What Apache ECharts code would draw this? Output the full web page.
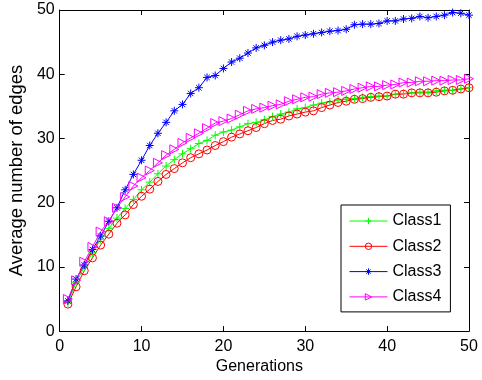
<!DOCTYPE html>
<html>
<head>
<meta charset="utf-8">
<script src="https://cdn.jsdelivr.net/npm/echarts@6/dist/echarts.min.js"></script>
<style>html,body{margin:0;padding:0;background:#fff;}#c{width:482px;height:380px;}</style>
</head>
<body>
<div id="c"></div>
<script>
var generations = [1,2,3,4,5,6,7,8,9,10,11,12,13,14,15,16,17,18,19,20,21,22,23,24,25,26,27,28,29,30,31,32,33,34,35,36,37,38,39,40,41,42,43,44,45,46,47,48,49,50];
var class1 = [4.4,7.6,10.0,12.2,14.3,16.0,17.6,19.1,20.5,22.0,23.2,24.5,25.7,26.7,27.6,28.4,29.2,29.7,30.5,31.0,31.3,31.8,32.3,32.5,32.9,33.4,33.8,34.1,34.6,34.8,35.2,35.5,35.7,36.0,36.1,36.2,36.4,36.5,36.6,36.6,36.9,37.0,37.1,37.2,37.2,37.4,37.5,37.5,37.7,37.9];
var class2 = [4.2,6.9,9.4,11.4,13.4,15.1,16.8,18.1,19.7,21.0,22.1,23.3,24.4,25.3,26.2,27.0,27.6,28.2,28.9,29.5,30.2,30.7,31.2,31.7,32.3,32.8,33.0,33.5,33.8,34.1,34.3,34.8,35.2,35.6,35.8,36.1,36.2,36.4,36.5,36.6,36.9,36.9,37.1,37.1,37.1,37.2,37.4,37.5,37.7,37.9];
var class3 = [4.7,8.1,10.3,12.7,14.8,17.1,19.2,22.0,24.4,26.6,28.9,30.8,32.5,34.3,35.3,37.0,37.9,39.5,39.8,40.9,41.9,42.5,43.3,44.1,44.5,45.0,45.3,45.5,45.9,46.1,46.3,46.5,46.7,46.8,47.0,47.7,47.8,47.8,47.9,48.3,48.3,48.6,48.7,49.0,48.8,49.0,49.2,49.6,49.5,49.2];
var class4 = [5.0,7.9,10.8,13.1,15.5,17.1,19.2,20.9,22.6,23.9,25.0,26.2,27.4,28.3,29.3,30.1,30.8,31.6,32.4,32.7,33.1,33.7,34.3,34.6,34.8,35.1,35.3,35.8,36.1,36.4,36.5,36.9,37.1,37.2,37.4,37.7,37.9,38.1,38.1,38.3,38.4,38.7,38.7,38.9,38.9,39.0,39.0,39.1,39.1,39.3];
var seriesNames = ['Class1','Class2','Class3','Class4'];
var xTicks = [0,10,20,30,40,50];
var yTicks = [0,10,20,30,40,50];

function pairs(ys){ return generations.map(function(g,i){ return [g, ys[i]]; }); }

var FONT = 'Liberation Sans, Arial, Helvetica, sans-serif';
var chart = echarts.init(document.getElementById('c'), null, {renderer:'canvas'});

function mk(name, ys, color, symbol, size){
  return {
    name: name, type: 'line', data: pairs(ys), xAxisIndex: 0, yAxisIndex: 0,
    symbol: symbol, symbolSize: size, showSymbol: true,
    lineStyle: {color: color, width: 1},
    itemStyle: {color: 'none', borderColor: color, borderWidth: 1},
    emphasis: {disabled: true},
    animation: false
  };
}

var axisCommon = {
  type: 'value', min: 0, max: 50, interval: 10,
  splitLine: {show: false},
  axisLine: {show: true, onZero: false, lineStyle: {color: '#000', width: 1}},
  axisTick: {show: true, inside: true, length: 5, lineStyle: {color: '#000'}}
};

chart.setOption({
  animation: false,
  backgroundColor: '#fff',
  grid: {left: 58, right: 13, top: 10, bottom: 46, containLabel: false},
  legend: {
    orient: 'vertical', left: 341, top: 205,
    data: seriesNames,
    backgroundColor: '#fff', borderColor: '#000', borderWidth: 1,
    padding: [8, 9, 7, 8],
    itemWidth: 38, itemHeight: 8, itemGap: 9.3,
    lineStyle: {width: 1},
    itemStyle: {borderWidth: 1},
    textStyle: {fontFamily: FONT, fontSize: 16, color: '#000', lineHeight: 14},
    selectedMode: false
  },
  xAxis: [
    Object.assign({}, axisCommon, {
      position: 'bottom',
      name: 'Generations', nameLocation: 'middle', nameGap: 24,
      nameTextStyle: {fontFamily: FONT, fontSize: 16, color: '#000', padding: [0, 10, 0, 0]},
      axisLabel: {fontFamily: FONT, fontSize: 16, color: '#000', margin: 7,
        formatter: function(v){ return xTicks.indexOf(v) >= 0 ? String(v) : ''; }}
    }),
    Object.assign({}, axisCommon, {position: 'top', axisLabel: {show: false}})
  ],
  yAxis: [
    Object.assign({}, axisCommon, {
      position: 'left',
      name: 'Average number of edges', nameLocation: 'middle', nameGap: 27, nameRotate: 90,
      nameTextStyle: {fontFamily: FONT, fontSize: 18.4, color: '#000'},
      axisLabel: {fontFamily: FONT, fontSize: 16, color: '#000', margin: 5,
        formatter: function(v){ return yTicks.indexOf(v) >= 0 ? String(v) : ''; }}
    }),
    Object.assign({}, axisCommon, {position: 'right', axisLabel: {show: false}})
  ],
  series: [
    mk('Class1', class1, '#00ff00', 'path://M5,0L5,10M0,5L10,5', 8),
    mk('Class2', class2, '#ff0000', 'circle', 8),
    mk('Class3', class3, '#0000ff', 'path://M5,0L5,10M0,5L10,5M1.6,1.6L8.4,8.4M8.4,1.6L1.6,8.4', 8),
    mk('Class4', class4, '#ff00ff', 'path://M0,0L10,5L0,10Z', 9)
  ]
});
</script>
</body>
</html>
